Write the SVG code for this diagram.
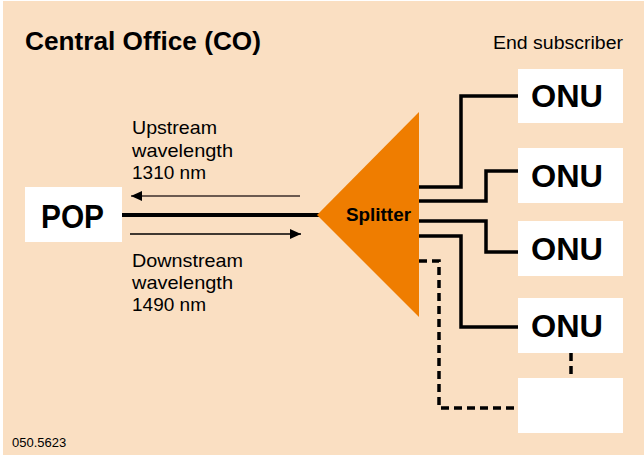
<svg xmlns="http://www.w3.org/2000/svg" width="644" height="455" viewBox="0 0 644 455">
  <defs>
    <style>
      .bg { fill: #FADFC2; }
      .box { fill: #FFFFFF; }
      .lbl { font-family: "Liberation Sans", Arial, sans-serif; fill: #000; }
      .bold { font-weight: bold; }
      .cap { font-size: 18.5px; }
      .fiber { fill: none; stroke: #000; stroke-width: 3.5; stroke-linejoin: miter; }
      .dash { fill: none; stroke: #000; stroke-width: 3.5; stroke-dasharray: 8 5; }
    </style>
    <marker id="head" markerWidth="11" markerHeight="10" refX="11" refY="5" orient="auto" markerUnits="userSpaceOnUse">
      <path d="M0,0 L11,5 L0,10 Z" fill="#000"/>
    </marker>
  </defs>

  <rect class="bg" x="3" y="1" width="641" height="454"/>

  <!-- headings -->
  <text class="lbl bold" x="25" y="50" font-size="26" textLength="236" lengthAdjust="spacingAndGlyphs">Central Office (CO)</text>
  <text class="lbl" x="493" y="49" font-size="18" textLength="130" lengthAdjust="spacingAndGlyphs">End subscriber</text>
  <text class="lbl" x="12" y="447" font-size="13">050.5623</text>

  <!-- connectors -->
  <g id="connectors">
    <line x1="122" y1="215" x2="320" y2="215" stroke="#000" stroke-width="4"/>
    <line x1="300" y1="196" x2="131" y2="196" stroke="#6B5A50" stroke-width="2" marker-end="url(#head)"/>
    <line x1="130" y1="234" x2="301" y2="234" stroke="#000" stroke-width="1.5" marker-end="url(#head)"/>
    <path class="fiber" d="M419,187 H461 V96 H518"/>
    <path class="fiber" d="M419,201 H486 V171 H518"/>
    <path class="fiber" d="M419,221 H486 V252 H518"/>
    <path class="fiber" d="M419,236 H461 V327 H518"/>
    <path class="dash" d="M419,261 H439 V408 H518"/>
    <path class="dash" d="M571,353 V378"/>
  </g>

  <!-- arrow captions -->
  <g id="upstream-label">
    <text class="lbl cap" x="132" y="134" textLength="85" lengthAdjust="spacingAndGlyphs">Upstream</text>
    <text class="lbl cap" x="132" y="157" textLength="101" lengthAdjust="spacingAndGlyphs">wavelength</text>
    <text class="lbl cap" x="132" y="179" textLength="74" lengthAdjust="spacingAndGlyphs">1310 nm</text>
  </g>
  <g id="downstream-label">
    <text class="lbl cap" x="132" y="267" textLength="111" lengthAdjust="spacingAndGlyphs">Downstream</text>
    <text class="lbl cap" x="132" y="289" textLength="101" lengthAdjust="spacingAndGlyphs">wavelength</text>
    <text class="lbl cap" x="132" y="311" textLength="74" lengthAdjust="spacingAndGlyphs">1490 nm</text>
  </g>

  <g id="pop">
    <rect class="box" x="25" y="187" width="97" height="55"/>
    <text class="lbl bold" x="41" y="228" font-size="33" textLength="63" lengthAdjust="spacingAndGlyphs">POP</text>
  </g>

  <g id="splitter">
    <polygon points="317,215 419,112 419,317" fill="#EF7D00"/>
    <text class="lbl bold" x="346" y="221" font-size="18" textLength="65" lengthAdjust="spacingAndGlyphs">Splitter</text>
  </g>

  <g id="onu1">
    <rect class="box" x="518" y="69" width="105" height="54"/>
    <text class="lbl bold" x="531" y="107" font-size="31" textLength="72" lengthAdjust="spacingAndGlyphs">ONU</text>
  </g>
  <g id="onu2">
    <rect class="box" x="518" y="148" width="105" height="55"/>
    <text class="lbl bold" x="531" y="187" font-size="31" textLength="72" lengthAdjust="spacingAndGlyphs">ONU</text>
  </g>
  <g id="onu3">
    <rect class="box" x="518" y="221" width="105" height="55"/>
    <text class="lbl bold" x="531" y="260" font-size="31" textLength="72" lengthAdjust="spacingAndGlyphs">ONU</text>
  </g>
  <g id="onu4">
    <rect class="box" x="518" y="298" width="105" height="55"/>
    <text class="lbl bold" x="531" y="337" font-size="31" textLength="72" lengthAdjust="spacingAndGlyphs">ONU</text>
  </g>
  <g id="empty-unit">
    <rect class="box" x="518" y="378" width="105" height="55"/>
  </g>
</svg>
